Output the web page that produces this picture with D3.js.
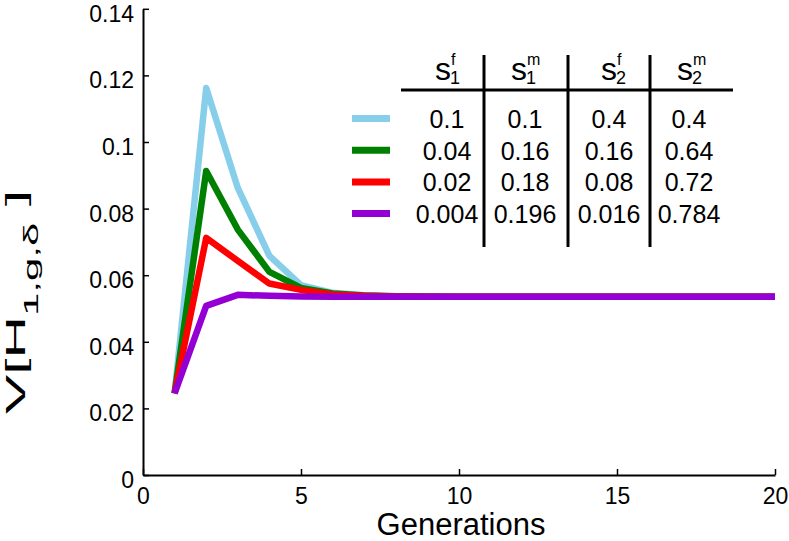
<!DOCTYPE html>
<html><head><meta charset="utf-8">
<script src="https://cdn.jsdelivr.net/npm/d3@7/dist/d3.min.js"></script>
<style>
body{margin:0;background:#fff}
svg{display:block}
text{font-family:"Liberation Sans",Arial,Helvetica,sans-serif;fill:#000}
</style></head>
<body><svg id="chart" width="789" height="541"></svg>
<script>
// ---- data ----
const generations = [1,2,3,4,5,6,7,8,9,10,11,12,13,14,15,16,17,18,19,20];
const seriesSkyBlue = [0.0245,0.1162,0.0862,0.0658,0.0570,0.0547,0.0540,0.0537,0.0536,0.0535,0.0535,0.0535,0.0535,0.0535,0.0535,0.0535,0.0535,0.0535,0.0535,0.0535];
const seriesGreen   = [0.0245,0.0913,0.0737,0.0610,0.0562,0.0545,0.0539,0.0537,0.0536,0.0535,0.0535,0.0535,0.0535,0.0535,0.0535,0.0535,0.0535,0.0535,0.0535,0.0535];
const seriesRed     = [0.0245,0.0712,0.0643,0.0575,0.0556,0.0542,0.0538,0.0536,0.0535,0.0535,0.0535,0.0535,0.0535,0.0535,0.0535,0.0535,0.0535,0.0535,0.0535,0.0535];
const seriesPurple  = [0.0245,0.0508,0.0541,0.0538,0.0536,0.0535,0.0535,0.0535,0.0535,0.0535,0.0535,0.0535,0.0535,0.0535,0.0535,0.0535,0.0535,0.0535,0.0535,0.0535];
const seriesColors  = ["#87ceeb","#008000","#ff0000","#9400d3"];
const xTicks = [0,5,10,15,20];
const xTickLabels = ["0","5","10","15","20"];
const yTicks = [0,0.02,0.04,0.06,0.08,0.1,0.12,0.14];
const yTickLabels = ["0","0.02","0.04","0.06","0.08","0.1","0.12","0.14"];
const headerSub = ["1","1","2","2"];
const headerSup = ["f","m","f","m"];
const colS1f = ["0.1","0.04","0.02","0.004"];
const colS1m = ["0.1","0.16","0.18","0.196"];
const colS2f = ["0.4","0.16","0.08","0.016"];
const colS2m = ["0.4","0.64","0.72","0.784"];
const xLabel = "Generations";

// ---- layout ----
const svg = d3.select("#chart");
const x = d3.scaleLinear().domain([0,20]).range([143,775]);
const y = d3.scaleLinear().domain([0,0.14]).range([475,8.8]);

// axes
const yAxis = d3.axisLeft(y).tickValues(yTicks).tickFormat((d,i)=>yTickLabels[i])
  .tickSizeInner(-6).tickSizeOuter(0).tickPadding(9);
const gy = svg.append("g").attr("transform","translate(143,0)").call(yAxis);
gy.selectAll("text").attr("font-size",23).attr("dy","0.54em");
const xAxis = d3.axisBottom(x).tickValues(xTicks).tickFormat((d,i)=>xTickLabels[i])
  .tickSizeInner(-6).tickSizeOuter(0).tickPadding(13);
const gx = svg.append("g").attr("transform","translate(0,475)").call(xAxis);
gx.selectAll("text").attr("font-size",23);
[gx,gy].forEach(g=>{
  g.attr("font-family",null).attr("font-size",null);
  g.select(".domain").attr("stroke","#000").attr("stroke-width",2);
  g.selectAll(".tick line").attr("stroke","#000").attr("stroke-width",1.5);
});

// lines
const allSeries = [seriesSkyBlue,seriesGreen,seriesRed,seriesPurple];
const line = d3.line().x((d,i)=>x(generations[i])).y(d=>y(d));
svg.append("g").selectAll("path").data(allSeries).join("path")
  .attr("d",line).attr("fill","none")
  .attr("stroke",(d,i)=>seriesColors[i]).attr("stroke-width",6.5)
  .attr("stroke-linejoin","round");

// axis labels
svg.append("text").attr("x",461).attr("y",535).attr("text-anchor","middle")
  .attr("font-size",31).text(xLabel);
const yl = svg.append("text").attr("transform","translate(25,302) rotate(-90) scale(2.1,1)")
  .attr("text-anchor","middle").attr("font-size",28);
yl.append("tspan").text("V[H");
yl.append("tspan").attr("font-size",20).attr("dy",13).text("1,g,\u03b4");
yl.append("tspan").attr("dy",-13).text(" ]");

// table / legend
const tbl = svg.append("g");
const rowY = [119,150.7,182.4,214];
const colX = [447,525,609,689];
const sX = [443,519,609,685];
tbl.selectAll("line.sample").data(seriesColors).join("line")
  .attr("x1",352).attr("x2",390)
  .attr("y1",(d,i)=>rowY[i]-0.5).attr("y2",(d,i)=>rowY[i]-0.5)
  .attr("stroke",d=>d).attr("stroke-width",7);
const cols = [colS1f,colS1m,colS2f,colS2m];
cols.forEach((col,c)=>{
  tbl.selectAll(null).data(col).join("text")
    .attr("x",colX[c]).attr("y",(d,i)=>rowY[i]+9)
    .attr("text-anchor","middle").attr("font-size",25).text(d=>d);
  tbl.append("text").attr("x",sX[c]).attr("y",80).attr("text-anchor","middle")
    .attr("font-size",32).text("s");
  tbl.append("text").attr("x",sX[c]+7).attr("y",84).attr("font-size",18).text(headerSub[c]);
  tbl.append("text").attr("x",sX[c]+8).attr("y",65).attr("font-size",16).text(headerSup[c]);
});
tbl.append("line").attr("x1",401).attr("x2",733).attr("y1",90).attr("y2",90)
  .attr("stroke","#000").attr("stroke-width",3);
[484,568,650].forEach(vx=>{
  tbl.append("line").attr("x1",vx).attr("x2",vx).attr("y1",55).attr("y2",247)
    .attr("stroke","#000").attr("stroke-width",3);
});
</script></body></html>
